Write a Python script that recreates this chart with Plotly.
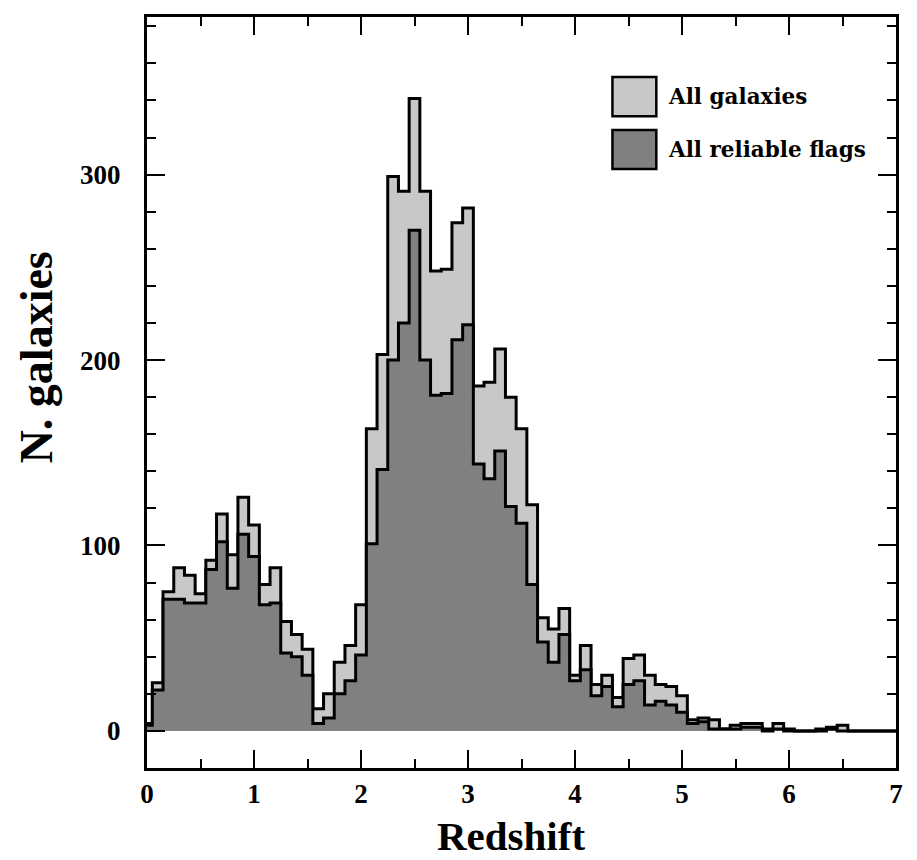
import plotly.graph_objects as go

# Bin centres (redshift), bin width 0.1
z_centers = [round(0.1 * k, 1) for k in range(70)]

all_galaxies = [4, 26, 75, 88, 84, 74, 92, 117, 95, 126,
                111, 79, 88, 59, 52, 44, 12, 20, 37, 46,
                68, 163, 203, 299, 291, 341, 291, 248, 249, 274,
                282, 186, 188, 206, 180, 163, 122, 61, 55, 66,
                30, 46, 25, 30, 18, 39, 41, 30, 25, 24,
                19, 6, 7, 6, 1, 3, 4, 4, 1, 4,
                1, 0, 0, 1, 2, 3, 0, 0, 0, 0]

reliable_flags = [3, 22, 71, 71, 69, 69, 87, 102, 77, 106,
                  94, 68, 69, 42, 40, 30, 4, 7, 20, 27,
                  41, 101, 141, 200, 220, 270, 200, 181, 182, 211,
                  219, 144, 136, 151, 121, 112, 79, 48, 37, 52,
                  27, 33, 19, 24, 13, 25, 27, 14, 16, 14,
                  10, 4, 5, 1, 1, 1, 2, 2, 0, 1,
                  0, 0, 0, 0, 1, 0, 0, 0, 0, 0]

legend_labels = ["All galaxies", "All reliable flags"]
x_ticks = [0, 1, 2, 3, 4, 5, 6, 7]
y_ticks = [0, 100, 200, 300]

LIGHT = "#c8c8c8"
DARK = "#808080"
BIN_W = 0.1


def step_xy(centers, values, xmin=0.0, xmax=7.0):
    xs, ys = [], []
    for c, v in zip(centers, values):
        xs.append(max(c - BIN_W / 2, xmin))
        ys.append(v)
    xs.append(xmax)
    ys.append(values[-1])
    return xs, ys


fig = go.Figure()
for vals, col, name in [(all_galaxies, LIGHT, legend_labels[0]),
                        (reliable_flags, DARK, legend_labels[1])]:
    xs, ys = step_xy(z_centers, vals)
    fig.add_trace(go.Scatter(
        x=xs, y=ys, mode="lines", line_shape="hv",
        line=dict(color="black", width=3),
        fill="tozeroy", fillcolor=col, name=name, showlegend=False))

tickfont = dict(family="Liberation Serif", size=27, color="black", weight="bold")
fig.update_xaxes(
    range=[0, 7], tickvals=x_ticks, ticktext=[str(t) for t in x_ticks],
    ticks="inside", ticklen=18, tickwidth=2, tickcolor="black",
    minor=dict(dtick=0.5, tick0=0, ticks="inside", ticklen=9, tickwidth=2, tickcolor="black"),
    showline=True, linecolor="black", linewidth=3, mirror="ticks",
    showgrid=False, zeroline=False, tickfont=tickfont,
)
fig.update_yaxes(
    range=[-20, 385], tickvals=y_ticks, ticktext=[str(t) for t in y_ticks],
    ticks="inside", ticklen=18, tickwidth=2, tickcolor="black",
    minor=dict(dtick=20, tick0=0, ticks="inside", ticklen=9, tickwidth=2, tickcolor="black"),
    showline=True, linecolor="black", linewidth=3, mirror="ticks",
    showgrid=False, zeroline=False, tickfont=tickfont, ticklabelstandoff=18,
)

# Legend boxes and labels
legend_y = [(331.5, 352.6), (303.0, 324.0)]
for (y0, y1), col, lab in zip(legend_y, [LIGHT, DARK], legend_labels):
    fig.add_shape(type="rect", xref="x", yref="y", x0=4.35, x1=4.76, y0=y0, y1=y1,
                  fillcolor=col, line=dict(color="black", width=2.5))
    fig.add_annotation(x=4.85, y=(y0 + y1) / 2, xref="x", yref="y", text="<b>%s</b>" % lab,
                       showarrow=False, xanchor="left", yanchor="middle",
                       font=dict(family="DejaVu Serif", size=21.5, color="black"))

fig.add_annotation(x=0.486, y=-0.0905, xref="paper", yref="paper", text="<b>Redshift</b>",
                   showarrow=False, xanchor="center", yanchor="middle",
                   font=dict(family="Liberation Serif", size=41, color="black"))
fig.add_annotation(x=-0.148, y=0.547, xref="paper", yref="paper", text="<b>N. galaxies</b>",
                   showarrow=False, xanchor="center", yanchor="middle", textangle=-90,
                   font=dict(family="Liberation Serif", size=46, color="black"))

fig.update_layout(
    width=917, height=860,
    margin=dict(l=147, r=21, t=17, b=92),
    paper_bgcolor="white", plot_bgcolor="white",
    font=dict(family="Liberation Serif", color="black"),
)

fig.write_html("out.html")
